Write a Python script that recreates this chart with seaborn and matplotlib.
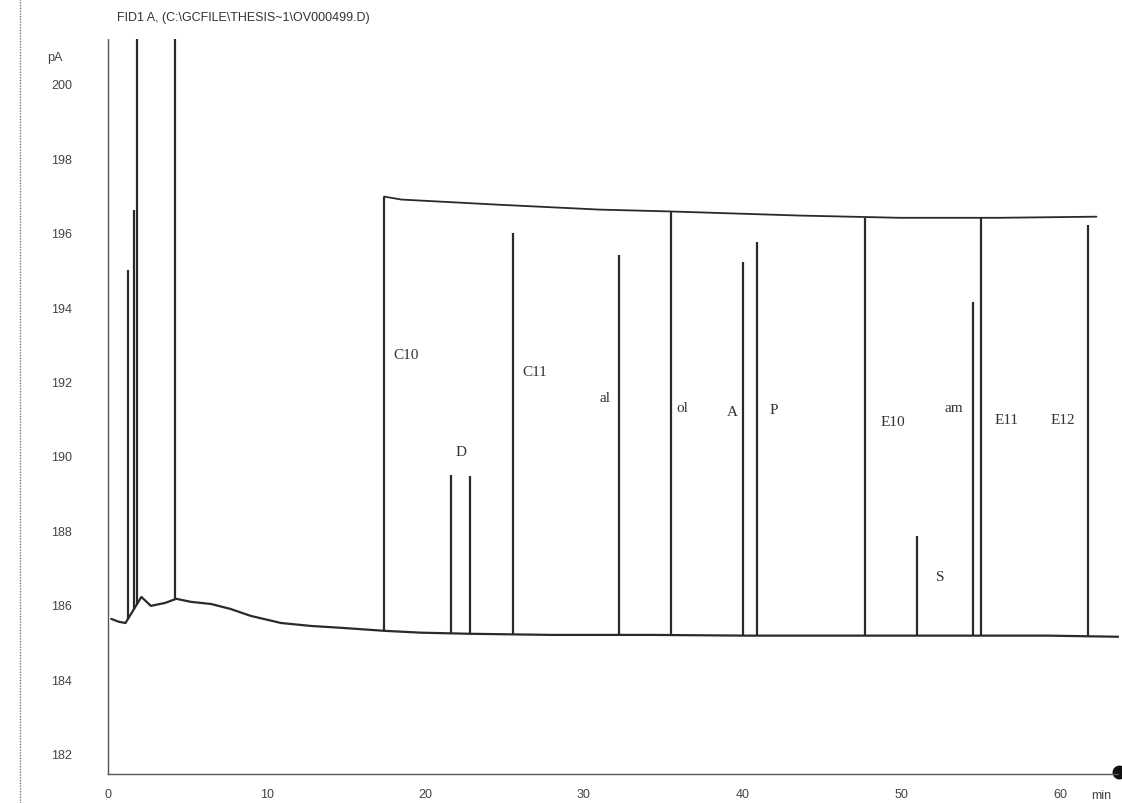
import numpy as np
import pandas as pd
import matplotlib.pyplot as plt
import seaborn as sns
from matplotlib.lines import Line2D

# --- Data ---
# baseline of the FID trace: retention time (min) / signal (pA)
base_t = [0.2, 0.7, 1.1, 2.1, 2.7, 3.6, 4.3, 5.2, 6.5, 7.7, 9.0, 10.9, 12.8,
          14.7, 17.4, 19.7, 22.8, 27.9, 34.2, 40.4, 46.7, 53.0, 59.3, 63.7]
base_y = [185.62, 185.54, 185.51, 186.21, 185.97, 186.05, 186.16, 186.08, 186.02,
          185.89, 185.70, 185.51, 185.43, 185.38, 185.30, 185.25, 185.22, 185.19,
          185.19, 185.17, 185.17, 185.17, 185.17, 185.14]

# upper plateau trace joining the saturated peaks
plat_t = [17.4, 18.5, 24.7, 31.0, 35.5, 43.6, 49.9, 56.2, 62.3]
plat_y = [196.97, 196.89, 196.75, 196.62, 196.57, 196.46, 196.40, 196.40, 196.43]

# peaks: retention time (min) / apex (pA)
peak_t = [1.26, 1.64, 1.82, 4.2, 17.4, 21.6, 22.8, 25.5, 32.2, 35.5,
          40.0, 40.9, 47.7, 51.0, 54.5, 55.0, 61.8]
peak_y = [195.0, 196.6, 205.0, 205.0, 196.97, 189.5, 189.46, 196.0, 195.4, 196.57,
          195.2, 195.76, 196.40, 187.85, 194.15, 196.40, 196.2]

# peak annotations
lab_text = ["C10", "D", "C11", "al", "ol", "A", "P", "E10", "am", "S", "E11", "E12"]
lab_t = [18.0, 21.9, 26.1, 31.0, 35.8, 39.0, 41.7, 48.7, 52.7, 52.2, 55.9, 59.4]
lab_y = [192.73, 190.13, 192.27, 191.58, 191.3, 191.2, 191.25, 190.93, 191.3, 186.77,
         190.99, 190.99]

yticks = [182, 184, 186, 188, 190, 192, 194, 196, 198, 200]
xticks = [0, 10, 20, 30, 40, 50, 60]

# --- Plot ---
sns.set_style("white")
plt.rcParams["font.family"] = ["Liberation Sans", "DejaVu Sans"]

fig = plt.figure(figsize=(11.22, 8.04), dpi=100)
ax = fig.add_axes([0.0963, 0.036, 0.9007, 0.914])

trace = "#2a2a2a"
base_df = pd.DataFrame({"t": base_t, "pA": base_y})
plat_df = pd.DataFrame({"t": plat_t, "pA": plat_y})
sns.lineplot(data=base_df, x="t", y="pA", ax=ax, color=trace, lw=1.6, sort=False)
sns.lineplot(data=plat_df, x="t", y="pA", ax=ax, color=trace, lw=1.3, sort=False)

# vertical peaks from baseline up to apex
peak_base = np.interp(peak_t, base_t, base_y)
ax.vlines(peak_t, peak_base, peak_y, color=trace, lw=1.6)

for txt, t, y in zip(lab_text, lab_t, lab_y):
    ax.text(t, y, txt, family="Liberation Serif", fontsize=11, color="#333333",
            ha="left", va="center")

ax.set_xlim(0, 63.7)
ax.set_ylim(181.45, 201.2)
ax.set_xticks(xticks)
ax.set_yticks(yticks)
ax.tick_params(axis="both", length=0, labelsize=9, colors="#444444")
ax.tick_params(axis="y", pad=26)
ax.tick_params(axis="x", pad=10)
ax.set_xlabel("")
ax.set_ylabel("")

for side in ["top", "right"]:
    ax.spines[side].set_visible(False)
for side in ["left", "bottom"]:
    ax.spines[side].set_linestyle((0, (1, 1)))
    ax.spines[side].set_color("#555555")
    ax.spines[side].set_linewidth(1.0)

# axis captions in the HP ChemStation style
ax.text(-0.045, 0.976, "pA", transform=ax.transAxes, fontsize=9,
        color="#444444", ha="right", va="center")
ax.text(0.993, -0.029, "min", transform=ax.transAxes, fontsize=9,
        color="#444444", ha="right", va="center")
ax.plot([1.0], [0.003], "o", color="#111111", ms=9, transform=ax.transAxes, clip_on=False)

fig.text(0.104, 0.985, r"FID1 A, (C:\GCFILE\THESIS~1\OV000499.D)", fontsize=9,
         color="#333333", ha="left", va="top")

# left margin of the scanned page
fig.add_artist(Line2D([0.018, 0.018], [0.0, 1.0], transform=fig.transFigure,
                      color="#777777", lw=1.0, ls=(0, (1, 1))))

fig.savefig("out.png", dpi=100, facecolor="white")
